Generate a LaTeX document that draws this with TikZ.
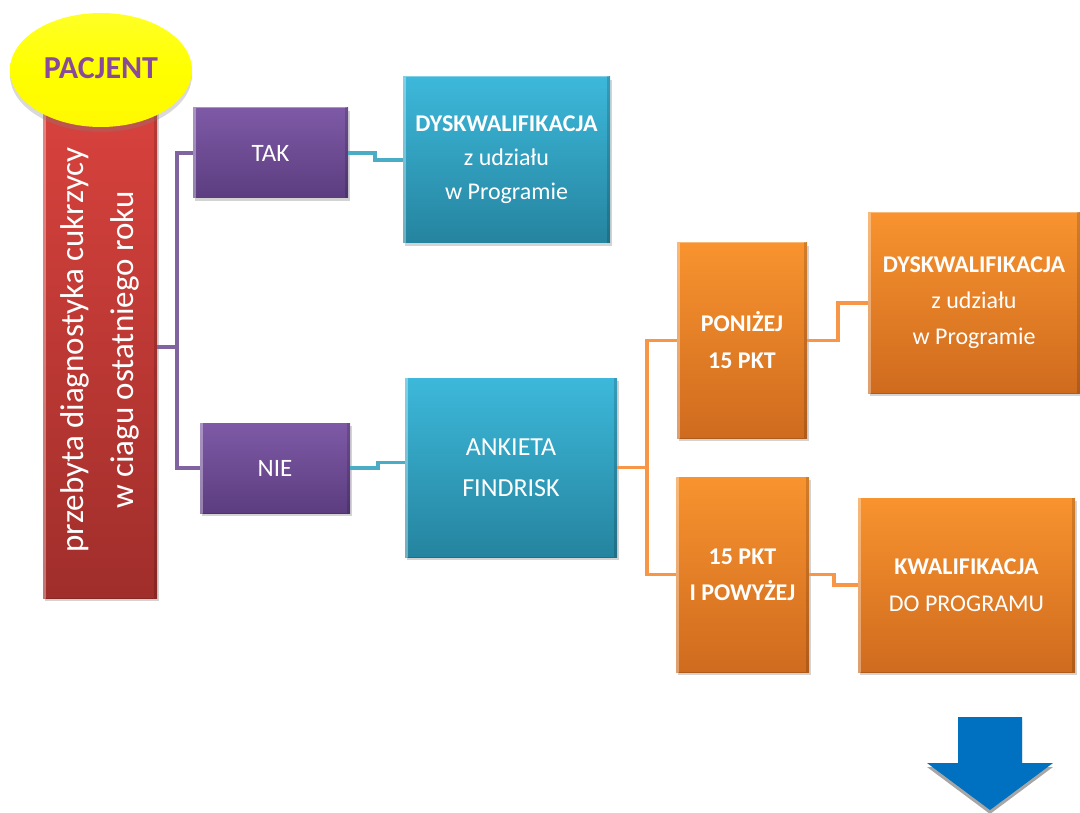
\documentclass[tikz,border=0pt]{standalone}
\usepackage{fontspec}
\setmainfont{Carlito}
\usetikzlibrary{shadows,shapes.geometric,calc}
\definecolor{purT}{HTML}{7E5AA6}\definecolor{purB}{HTML}{5C3D80}
\definecolor{teaT}{HTML}{3DB8DA}\definecolor{teaB}{HTML}{25849F}
\definecolor{oraT}{HTML}{F8932F}\definecolor{oraB}{HTML}{CF6B1E}
\definecolor{redT}{HTML}{D8423D}\definecolor{redB}{HTML}{A02E2B}
\definecolor{purL}{HTML}{8064A2}\definecolor{teaL}{HTML}{4BACC6}\definecolor{oraL}{HTML}{F79646}
\definecolor{arrB}{HTML}{0070C0}\definecolor{pacT}{HTML}{8A4A9C}
\tikzset{
  boxbase/.style={rectangle, inner sep=2pt, align=center, text=white,
    drop shadow={shadow xshift=2pt, shadow yshift=-3pt, opacity=.35},
    path picture={
      \draw[white, opacity=.35, line width=3pt]
        ([shift={(1.5pt,-1.5pt)}]path picture bounding box.south west) --
        ([shift={(1.5pt,1.5pt)}]path picture bounding box.north west) --
        ([shift={(-1.5pt,1.5pt)}]path picture bounding box.north east);
      \draw[black, opacity=.15, line width=3pt]
        ([shift={(-1.5pt,1.5pt)}]path picture bounding box.north east) --
        ([shift={(-1.5pt,-1.5pt)}]path picture bounding box.south east) --
        ([shift={(1.5pt,-1.5pt)}]path picture bounding box.south west);
    }},
  purbox/.style={boxbase, top color=purT, bottom color=purB, font=\fontsize{25}{30}\selectfont},
  teabox/.style={boxbase, top color=teaT, bottom color=teaB, font=\fontsize{24}{34}\selectfont},
  orabox/.style={boxbase, top color=oraT, bottom color=oraB, font=\fontsize{24}{36}\selectfont},
  redbox/.style={boxbase, top color=redT, bottom color=redB},
  conn/.style={line width=3.5pt},
  pconn/.style={conn, draw=purL},
  tconn/.style={conn, draw=teaL},
  oconn/.style={conn, draw=oraL},
}
\begin{document}
\begin{tikzpicture}[x=1pt,y=-1pt]
\useasboundingbox (0,0) rectangle (1080,813);

% red box
\node[redbox, minimum width=114pt, minimum height=490pt] (red) at (100,353) {};
\node[rotate=90, align=center, text=white, font=\fontsize{33}{50}\selectfont] (redtxt) at (100,350)
  {przebyta diagnostyka cukrzycy\\ w ciagu ostatniego roku};

% ellipse
\node[ellipse, minimum width=182pt, minimum height=114pt, inner sep=0pt,
  top color=yellow!85!white, bottom color=yellow!95!orange, middle color=yellow,
  drop shadow={shadow xshift=0pt, shadow yshift=-5pt, opacity=.3}] (pac) at (101,70) {};
\node[text=pacT, font=\fontsize{32}{34}\selectfont\bfseries] (pactxt) at (101,68) {PACJENT};

% purple
\node[purbox, minimum width=155pt, minimum height=90pt] (tak) at (270.5,153) {TAK};
\node[purbox, minimum width=150pt, minimum height=90pt] (nie) at (275,468) {NIE};

% teal
\node[teabox, minimum width=207pt, minimum height=166pt] (dys1) at (506.5,160)
  {\textbf{DYSKWALIFIKACJA}\\ z udziału\\ w Programie};
\node[teabox, minimum width=212pt, minimum height=179pt, font=\fontsize{26}{41}\selectfont] (ank) at (511,467.5)
  {ANKIETA\\ FINDRISK};

% orange
\node[orabox, minimum width=130pt, minimum height=195pt, font=\fontsize{24}{37}\selectfont\bfseries] (pon) at (742,340.5)
  {PONIŻEJ\\ 15 PKT};
\node[orabox, minimum width=133pt, minimum height=195pt, font=\fontsize{24}{36}\selectfont\bfseries] (pkt) at (742.5,574.5)
  {15 PKT\\ I POWYŻEJ};
\node[orabox, minimum width=212pt, minimum height=180pt] (dys2) at (974,303)
  {\textbf{DYSKWALIFIKACJA}\\ z udziału\\ w Programie};
\node[orabox, minimum width=217pt, minimum height=174pt, font=\fontsize{24}{37}\selectfont] (kw) at (966.5,585)
  {\textbf{KWALIFIKACJA}\\ DO PROGRAMU};

% connectors
\coordinate (pj) at ($(red.east)+(20,-6)$);
\draw[pconn] ($(red.east)+(0,-6)$) -- (pj);
\draw[pconn] (tak.west) -| (pj) |- (nie.west);
\draw[tconn] (tak.east) -- ++(27,0) |- (dys1.west);
\draw[tconn] (nie.east) -- ++(28,0) |- ($(ank.west)+(0,-5)$);
\coordinate (oj) at ($(ank.east)+(30,0)$);
\draw[oconn] (ank.east) -- (oj);
\draw[oconn] (pon.west) -| (oj) |- (pkt.west);
\draw[oconn] (pon.east) -- ++(31,0) |- (dys2.west);
\draw[oconn] (pkt.east) -- ++(25,0) |- (kw.west);

% blue arrow
\fill[gray!70] (958,721) -- (1022,721) -- (1022,767) -- (1053,767) -- (990,814) -- (927,767) -- (958,767) -- cycle;
\fill[arrB] (958,717) -- (1022,717) -- (1022,763) -- (1053,763) -- (990,810) -- (927,763) -- (958,763) -- cycle;
\end{tikzpicture}
\end{document}
